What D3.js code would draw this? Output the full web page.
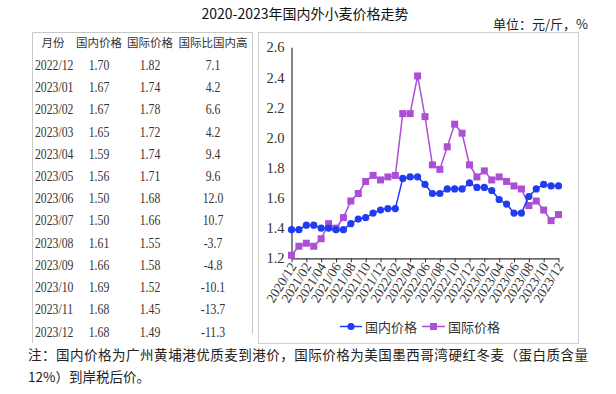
<!DOCTYPE html>
<html><head><meta charset="utf-8">
<script src="https://cdn.jsdelivr.net/npm/d3@7"></script>
<style>
html,body{margin:0;padding:0;background:#fff;}
svg{display:block;}
</style></head>
<body>
<svg id="c" width="616" height="394"></svg>
<script>
const months = ["2020/12","2021/01","2021/02","2021/03","2021/04","2021/05","2021/06","2021/07","2021/08","2021/09","2021/10","2021/11","2021/12",
"2022/01","2022/02","2022/03","2022/04","2022/05","2022/06","2022/07","2022/08","2022/09","2022/10","2022/11","2022/12",
"2023/01","2023/02","2023/03","2023/04","2023/05","2023/06","2023/07","2023/08","2023/09","2023/10","2023/11","2023/12"];
const domestic = [1.39,1.39,1.42,1.42,1.40,1.40,1.39,1.39,1.43,1.46,1.47,1.50,1.52,
1.53,1.53,1.73,1.74,1.74,1.69,1.63,1.63,1.66,1.66,1.66,1.70,
1.67,1.67,1.65,1.59,1.56,1.50,1.50,1.61,1.66,1.69,1.68,1.68];
const international = [1.22,1.28,1.30,1.28,1.33,1.43,1.40,1.47,1.58,1.63,1.71,1.75,1.72,
1.74,1.75,2.16,2.16,2.41,2.14,1.82,1.79,1.94,2.09,2.03,1.82,
1.74,1.78,1.72,1.74,1.71,1.68,1.66,1.55,1.58,1.52,1.45,1.49];
const yTicks = [1.2,1.4,1.6,1.8,2.0,2.2,2.4,2.6];
const tableHeader = ["月份","国内价格","国际价格","国际比国内高"];
const tableMonths = ["2022/12","2023/01","2023/02","2023/03","2023/04","2023/05","2023/06","2023/07","2023/08","2023/09","2023/10","2023/11","2023/12"];
const tableDomestic = ["1.70","1.67","1.67","1.65","1.59","1.56","1.50","1.50","1.61","1.66","1.69","1.68","1.68"];
const tableIntl = ["1.82","1.74","1.78","1.72","1.74","1.71","1.68","1.66","1.55","1.58","1.52","1.45","1.49"];
const tableRatio = ["7.1","4.2","6.6","4.2","9.4","9.6","12.0","10.7","-3.7","-4.8","-10.1","-13.7","-11.3"];
const seriesNames = ["国内价格","国际价格"];
const title = "2020-2023年国内外小麦价格走势";
const unit = "单位：元/斤，%";
const note1 = "注：国内价格为广州黄埔港优质麦到港价，国际价格为美国墨西哥湾硬红冬麦（蛋白质含量";
const note2 = "12%）到岸税后价。";

const svg = d3.select("#c");
const CJK = "'Noto Sans CJK SC','Noto Sans',sans-serif";
const SERIF = "'Liberation Serif','DejaVu Serif',serif";
const BLUE = "#1f3cf2", PURPLE = "#ac4fd6";
const SX = 0.84; // horizontal squeeze of table glyphs

// title
svg.append("text").attr("x",305).attr("y",19).attr("text-anchor","middle")
  .attr("font-family",CJK).attr("font-size",14).attr("fill","#111").text(title);
svg.append("text").attr("x",588).attr("y",29).attr("text-anchor","end")
  .attr("font-family",CJK).attr("font-size",13).attr("fill","#222").text(unit);

// table frame
svg.append("path").attr("d","M32.5,343 V32.5 H252.5 V334").attr("fill","none").attr("stroke","#c8c8c8");
// chart frame
svg.append("rect").attr("x",258.5).attr("y",32.5).attr("width",320).attr("height",311)
  .attr("fill","none").attr("stroke","#d0d0d0");

// table
const colX = [53,99,150,213];
const hdr = svg.append("g").attr("font-family",CJK).attr("font-size",11.5).attr("fill","#333");
tableHeader.forEach((h,i)=>{
  hdr.append("text").attr("x",colX[i]).attr("y",47).attr("text-anchor","middle").text(h);
});
const rowY = d3.scaleLinear().domain([0,12]).range([65,331.5]);
const tb = svg.append("g").attr("font-family",SERIF).attr("font-size",14).attr("fill","#333");
function sq(g, x, y, anchor, t){
  g.append("text").attr("transform",`translate(${x},${y}) scale(${SX},1)`)
   .attr("text-anchor",anchor).text(t);
}
tableMonths.forEach((m,i)=>{
  const y = rowY(i)+5;
  sq(tb,35,y,"start",m);
  sq(tb,colX[1],y,"middle",tableDomestic[i]);
  sq(tb,colX[2],y,"middle",tableIntl[i]);
  sq(tb,colX[3],y,"middle",tableRatio[i]);
});

// chart
const x = d3.scaleLinear().domain([0,months.length-1]).range([291.5,558.5]);
const y = d3.scaleLinear().domain([1.2,2.6]).range([258.3,47.3]);

const yAxis = svg.append("g").attr("transform","translate(291.5,0)")
  .call(d3.axisLeft(y).tickValues(yTicks).tickFormat(d3.format(".1f")).tickSize(0).tickPadding(7));
yAxis.select(".domain").attr("stroke","#333").attr("stroke-width",1.2);
yAxis.selectAll("text").attr("font-family",SERIF).attr("font-size",14.5).attr("fill","#333");

const xIdx = d3.range(0,months.length,2);
const xAxis = svg.append("g").attr("transform","translate(0,258.3)")
  .call(d3.axisBottom(x).tickValues(xIdx).tickFormat(i=>months[i]).tickSize(4).tickSizeOuter(0));
xAxis.select(".domain").attr("stroke","#333").attr("stroke-width",1.2);
xAxis.selectAll(".tick line").attr("stroke","#333");
xAxis.selectAll("text").attr("font-family",SERIF).attr("font-size",13.5).attr("fill","#333")
  .attr("text-anchor","end").attr("dy",0).attr("dx",0).attr("y",0)
  .attr("transform","translate(5,8) rotate(-58)");

const line = d3.line().x((d,i)=>x(i)).y(d=>y(d));
svg.append("path").datum(international).attr("d",line).attr("fill","none").attr("stroke",PURPLE).attr("stroke-width",1.5);
svg.append("g").selectAll("rect").data(international).join("rect")
  .attr("x",(d,i)=>x(i)-3.5).attr("y",d=>y(d)-3.5).attr("width",7).attr("height",7).attr("fill",PURPLE);
svg.append("path").datum(domestic).attr("d",line).attr("fill","none").attr("stroke",BLUE).attr("stroke-width",1.5);
svg.append("g").selectAll("circle").data(domestic).join("circle")
  .attr("cx",(d,i)=>x(i)).attr("cy",d=>y(d)).attr("r",3.6).attr("fill",BLUE);

// legend
const lg = svg.append("g");
const ly = 326.5;
lg.append("line").attr("x1",340).attr("x2",362).attr("y1",ly).attr("y2",ly).attr("stroke",BLUE).attr("stroke-width",1.5);
lg.append("circle").attr("cx",351).attr("cy",ly).attr("r",3.6).attr("fill",BLUE);
lg.append("text").attr("x",365).attr("y",ly+5).attr("font-family",CJK).attr("font-size",13).attr("fill","#333").text(seriesNames[0]);
lg.append("line").attr("x1",422).attr("x2",445).attr("y1",ly).attr("y2",ly).attr("stroke",PURPLE).attr("stroke-width",1.5);
lg.append("rect").attr("x",430).attr("y",ly-3.5).attr("width",7).attr("height",7).attr("fill",PURPLE);
lg.append("text").attr("x",448).attr("y",ly+5).attr("font-family",CJK).attr("font-size",13).attr("fill","#333").text(seriesNames[1]);

// notes
svg.append("text").attr("x",28).attr("y",360).attr("font-family",CJK).attr("font-size",13.5)
  .attr("fill","#222").attr("textLength",560).attr("lengthAdjust","spacing").text(note1);
svg.append("text").attr("x",28).attr("y",382).attr("font-family",CJK).attr("font-size",13.5)
  .attr("fill","#222").text(note2);
</script>
</body></html>
